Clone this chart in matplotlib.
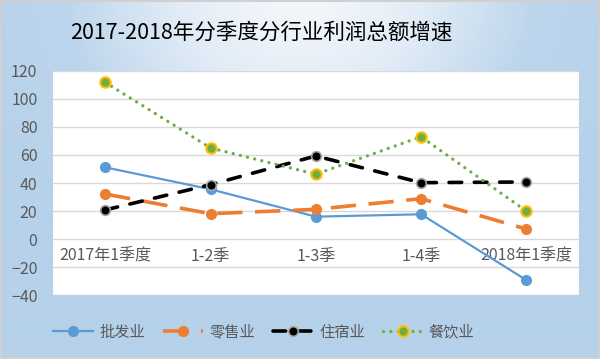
import matplotlib
matplotlib.use('Agg')
import matplotlib.pyplot as plt
import numpy as np
from matplotlib.colors import LinearSegmentedColormap
from matplotlib.patches import Rectangle

plt.rcParams['font.family'] = ['Noto Sans CJK SC', 'DejaVu Sans']

# data
quarters = ['2017年1季度', '1-2季', '1-3季', '1-4季', '2018年1季度']
pifa = [51.2, 35.6, 16.1, 17.8, -29.0]
lingshou = [32.2, 18.2, 21.3, 28.9, 7.3]
zhusu = [20.9, 38.9, 59.3, 40.3, 40.8]
canyin = [111.7, 65.0, 46.3, 73.0, 20.1]
y_ticks = [-40, -20, 0, 20, 40, 60, 80, 100, 120]

fig = plt.figure(figsize=(6, 3.59), dpi=100)

# background gradient
bg = fig.add_axes([0, 0, 1, 1], zorder=-10)
xx, yy = np.meshgrid(np.linspace(0, 600, 300), np.linspace(0, 359, 180))
t = np.sqrt(((xx - 300) / 330) ** 2 + ((yy + 20) / 290) ** 2)
t = np.clip(t, 0, 1.1)
cmap = LinearSegmentedColormap.from_list('bg', ['#f8fafd', '#e3edf7', '#bcd5ec', '#b6d1ea'])
bg.imshow(t, cmap=cmap, extent=[0, 600, 359, 0], aspect='auto', vmin=0, vmax=1.1)
bg.set_xlim(0, 600)
bg.set_ylim(359, 0)
bg.axis('off')
bg.add_patch(Rectangle((1, 1), 598, 357, fill=False, edgecolor='#d0d0d0', linewidth=1.5))

ax = fig.add_axes([0.0878, 0.177, 0.877, 0.626])
ax.set_facecolor('white')
x = np.arange(len(quarters))

ax.plot(x, pifa, color='#5B9BD5', lw=1.6, marker='o', ms=7,
        mfc='#5B9BD5', mec='#5B9BD5', label='批发业', zorder=3)
ax.plot(x, lingshou, color='#ED7D31', lw=2.6, ls=(0, (7, 3.5)), marker='o', ms=7,
        mfc='#ED7D31', mec='#ED7D31', label='零售业', zorder=3)
ax.plot(x, zhusu, color='black', lw=2.6, ls=(0, (3.5, 3.5)), dash_capstyle='round',
        marker='o', ms=7, mfc='black', mec='#a6a6a6', mew=1.2, label='住宿业', zorder=4)
ax.plot(x, canyin, color='#70AD47', lw=2.4, ls=(0, (0.01, 2.2)), dash_capstyle='round',
        marker='o', ms=7.5, mfc='#70AD47', mec='#FFC000', mew=1.5, label='餐饮业', zorder=5)

ax.set_xlim(-0.5, len(quarters) - 0.5)
ax.set_ylim(-40, 120)
ax.set_yticks(y_ticks)
ax.grid(axis='y', color='#d9d9d9', lw=1)
ax.set_axisbelow(True)
for s in ax.spines.values():
    s.set_visible(False)
ax.spines['bottom'].set_position(('data', 0))
ax.set_xticks(x)
ax.set_xticklabels(quarters)
ax.tick_params(axis='x', length=0, pad=6, labelsize=11.5, labelcolor='#595959')
ax.tick_params(axis='y', length=0, pad=11, labelsize=11.5, labelcolor='#595959')

fig.text(0.436, 0.91, '2017-2018年分季度分行业利润总额增速', ha='center', va='center',
         fontsize=15.5, color='black')

fig.legend(loc='center', bbox_to_anchor=(0.44, 0.075), ncol=4, frameon=False,
           fontsize=11, handlelength=2.6, handletextpad=0.4, columnspacing=1.2,
           labelcolor='#595959', numpoints=1)

fig.savefig('out.png', dpi=100)
